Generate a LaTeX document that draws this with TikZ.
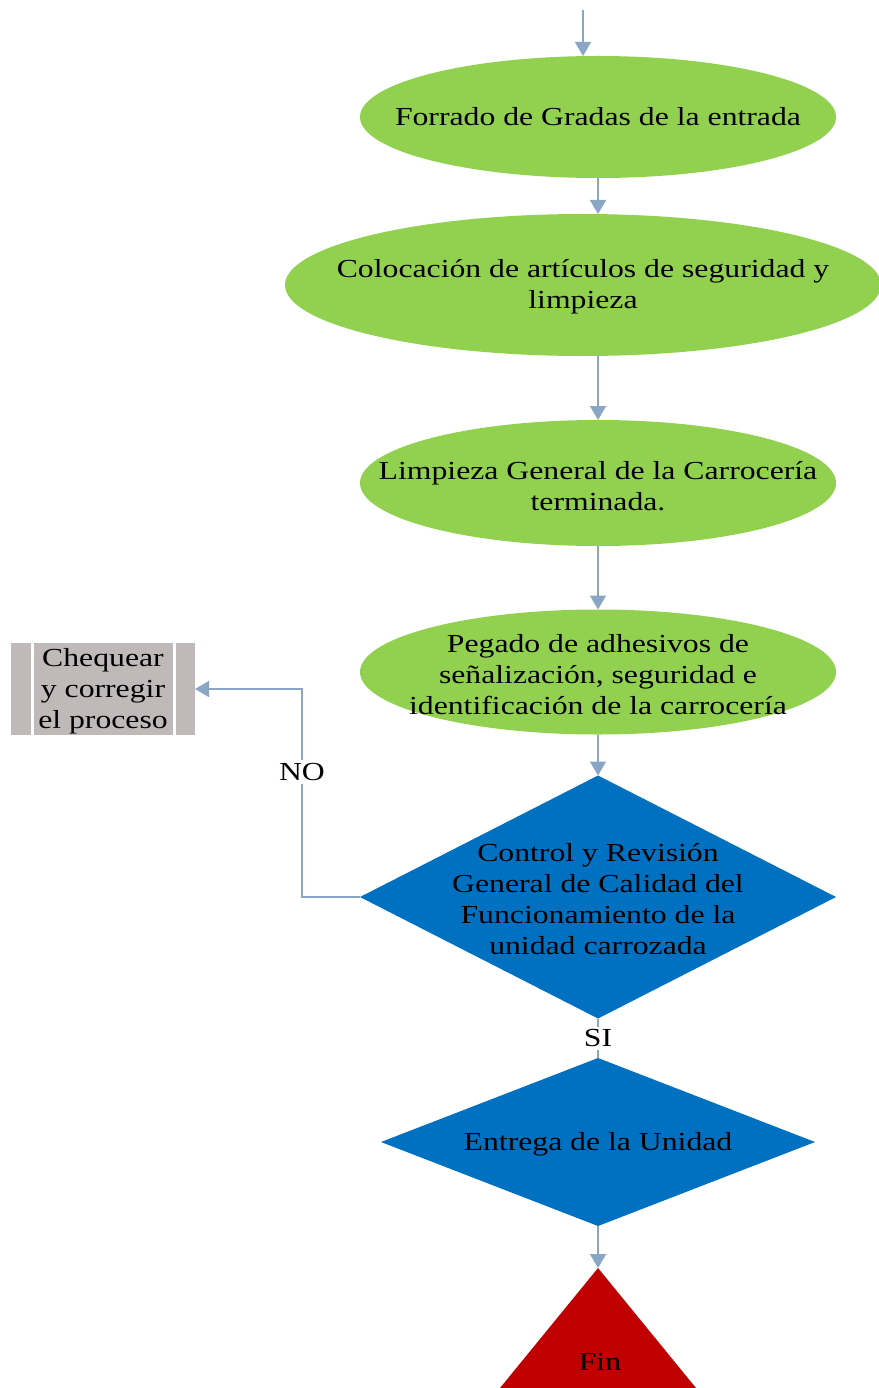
\documentclass[tikz,border=0pt]{standalone}
\usepackage{fontspec}
\setmainfont{Liberation Serif}[FakeStretch=1.22]
\usetikzlibrary{shapes.geometric,arrows.meta}
\definecolor{stepgreen}{RGB}{146,208,80}
\definecolor{decblue}{RGB}{0,112,192}
\definecolor{endred}{RGB}{192,0,0}
\definecolor{linkblue}{RGB}{137,166,197}
\definecolor{boxgray}{RGB}{192,185,185}
\tikzset{
  stepshape/.style={ellipse, fill=stepgreen, draw=none, inner sep=0pt, outer sep=0pt},
  decshape/.style={diamond, fill=decblue, draw=none, inner sep=0pt, outer sep=0pt},
  label text/.style={align=center, inner sep=0pt, text=black},
  arr/.style={draw=linkblue, line width=1.6pt, -{Triangle[width=16pt,length=14pt]}},
  plain link/.style={draw=linkblue, line width=1.3pt},
}
\begin{document}
\begin{tikzpicture}[x=1pt, y=-1pt, font=\fontsize{26}{31}\selectfont]
\useasboundingbox (0,0) rectangle (878,1388);

% process steps
\node[stepshape, minimum width=476pt, minimum height=122pt] (e1) at (598,117) {};
\node[label text] (t1) at (e1) {Forrado de Gradas de la entrada};

\node[stepshape, minimum width=596pt, minimum height=142pt] (e2) at (583,285) {};
\node[label text] (t2) at (583,287) {Colocación de artículos de seguridad y\\limpieza};

\node[stepshape, minimum width=476pt, minimum height=126pt] (e3) at (598,483) {};
\node[label text] (t3) at (598,486) {Limpieza General de la Carrocería\\terminada.};

\node[stepshape, minimum width=476pt, minimum height=125pt] (e4) at (598,672) {};
\node[label text] (t4) at (598,675) {Pegado de adhesivos de\\señalización, seguridad e\\identificación de la carrocería};

% decisions
\node[decshape, minimum width=476pt, minimum height=243pt] (d1) at (598,897) {};
\node[label text] (t5) at (598,899) {Control y Revisión\\General de Calidad del\\Funcionamiento de la\\unidad carrozada};

\node[decshape, minimum width=434pt, minimum height=168pt] (d2) at (598,1142) {};
\node[label text] (t6) at (598,1144) {Entrega de la Unidad};

% end marker
\coordinate (fintop) at (598,1268);
\fill[endred] (fintop) -- (500,1388) -- (696,1388) -- cycle;
\node[label text] (fin) at (600,1362) {Fin};

% correction box
\node[rectangle, fill=boxgray, minimum width=184pt, minimum height=92pt, inner sep=0pt, outer sep=0pt] (chk) at (103,689) {};
\fill[white] (31,643) rectangle (34,735);
\fill[white] (173,643) rectangle (176,735);
\node[label text] (tchk) at (103,691) {Chequear\\y corregir\\el proceso};

% connectors
\coordinate (start) at (583,10);
\draw[arr] (start) -- (start |- e1.north);
\draw[arr] (e1.south) -- (e1.south |- e2.north);
\draw[arr] (e1.south |- e2.south) -- (e3.north);
\draw[arr] (e3.south) -- (e4.north);
\draw[arr] (e4.south) -- (d1.north);
\draw[plain link] (d1.south) -- node[fill=white, inner sep=3pt, text=black] (si) {SI} (d2.north);
\draw[arr] (d2.south) -- (fintop);
\draw[arr] (d1.west) -- ++(-58,0) coordinate (bend) |- node[pos=0.3, fill=white, inner sep=3pt, text=black] (no) {NO} (chk.east);
\end{tikzpicture}
\end{document}
